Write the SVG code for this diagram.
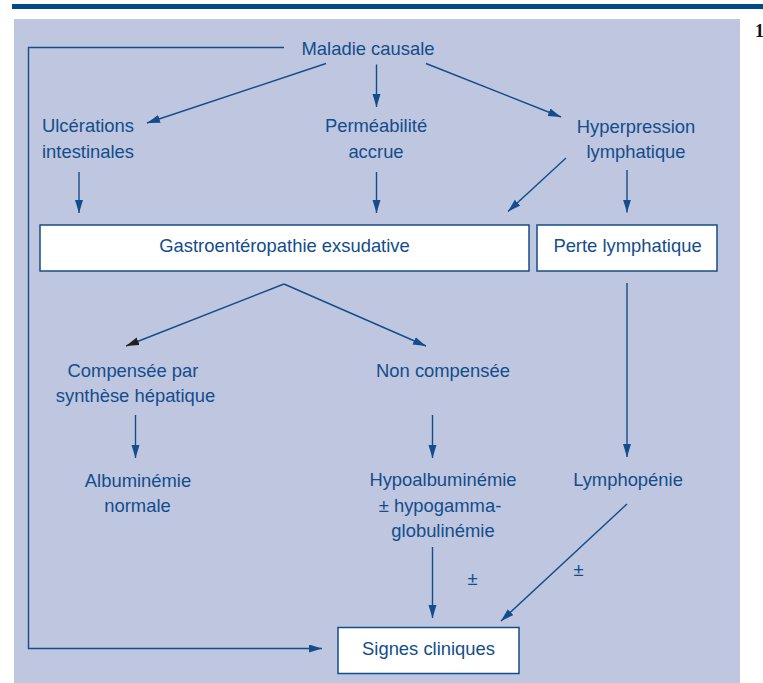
<svg xmlns="http://www.w3.org/2000/svg" width="763" height="683" viewBox="0 0 763 683">
  <style>
    .lbl { font-family: "Liberation Sans", Arial, sans-serif; font-size: 18.4px; fill: #134d8c; }
    .mid { text-anchor: middle; }
    .box { fill: #ffffff; stroke: #134d8c; stroke-width: 1.5; }
    .con { fill: none; stroke: #134d8c; stroke-width: 1.4; }
  </style>
  <defs>
    <marker id="arr" markerUnits="userSpaceOnUse" markerWidth="14" markerHeight="10" refX="13" refY="4" orient="auto">
      <path d="M0,0 L13,4 L0,8 z" fill="#134d8c"/>
    </marker>
    <marker id="arrDark" markerUnits="userSpaceOnUse" markerWidth="14" markerHeight="10" refX="13" refY="4" orient="auto">
      <path d="M0,0 L13,4 L0,8 z" fill="#231f20"/>
    </marker>
  </defs>

  <!-- page header rule and figure panel -->
  <rect x="12" y="4" width="751" height="5" fill="#004a87"/>
  <rect x="14" y="19" width="726" height="664" fill="#bfc6df"/>
  <text x="755" y="37" font-family="Liberation Serif, serif" font-weight="bold" font-size="18" fill="#111">1</text>

  <!-- connectors -->
  <g id="connectors">
    <polyline class="con" points="284,47.5 28.5,47.5 28.5,648.5 322,648.5" marker-end="url(#arr)"/>
    <line class="con" x1="326" y1="63.5" x2="147" y2="123" marker-end="url(#arr)"/>
    <line class="con" x1="376.5" y1="64.5" x2="376.5" y2="107" marker-end="url(#arr)"/>
    <line class="con" x1="426" y1="63.5" x2="561" y2="117" marker-end="url(#arr)"/>
    <line class="con" x1="79" y1="172" x2="79" y2="213" marker-end="url(#arr)"/>
    <line class="con" x1="376.5" y1="172" x2="376.5" y2="213" marker-end="url(#arr)"/>
    <line class="con" x1="566" y1="158" x2="508" y2="211.5" marker-end="url(#arr)"/>
    <line class="con" x1="627" y1="170" x2="627" y2="212.5" marker-end="url(#arr)"/>
    <line class="con" x1="284" y1="284" x2="126" y2="346" marker-end="url(#arrDark)"/>
    <line class="con" x1="284" y1="284" x2="426" y2="346" marker-end="url(#arr)"/>
    <line class="con" x1="627" y1="283" x2="627" y2="457" marker-end="url(#arr)"/>
    <line class="con" x1="135.5" y1="415" x2="135.5" y2="458" marker-end="url(#arr)"/>
    <line class="con" x1="432.5" y1="415" x2="432.5" y2="458" marker-end="url(#arr)"/>
    <line class="con" x1="432.5" y1="547" x2="432.5" y2="618" marker-end="url(#arr)"/>
    <line class="con" x1="627" y1="504" x2="501" y2="621" marker-end="url(#arr)"/>
    <text class="lbl mid" x="472.5" y="585">±</text>
    <text class="lbl mid" x="578.5" y="576">±</text>
  </g>

  <!-- nodes -->
  <g id="maladie-causale">
    <text class="lbl mid" x="368" y="55">Maladie causale</text>
  </g>
  <g id="ulcerations">
    <text class="lbl" x="42" y="132">Ulcérations</text>
    <text class="lbl" x="42" y="158">intestinales</text>
  </g>
  <g id="permeabilite">
    <text class="lbl mid" x="376" y="132">Perméabilité</text>
    <text class="lbl mid" x="376" y="158">accrue</text>
  </g>
  <g id="hyperpression">
    <text class="lbl mid" x="636" y="133">Hyperpression</text>
    <text class="lbl mid" x="636" y="158">lymphatique</text>
  </g>
  <g id="gastroenteropathie">
    <rect class="box" x="40" y="225" width="489" height="46"/>
    <text class="lbl mid" x="284.5" y="252">Gastroentéropathie exsudative</text>
  </g>
  <g id="perte-lymphatique">
    <rect class="box" x="537" y="225" width="180" height="46"/>
    <text class="lbl mid" x="627.5" y="252">Perte lymphatique</text>
  </g>
  <g id="compensee">
    <text class="lbl mid" x="133" y="377">Compensée par</text>
    <text class="lbl mid" x="135.5" y="402">synthèse hépatique</text>
  </g>
  <g id="non-compensee">
    <text class="lbl mid" x="443" y="377">Non compensée</text>
  </g>
  <g id="albuminemie-normale">
    <text class="lbl mid" x="138" y="487">Albuminémie</text>
    <text class="lbl mid" x="137.5" y="512">normale</text>
  </g>
  <g id="hypoalbuminemie">
    <text class="lbl mid" x="443" y="486">Hypoalbuminémie</text>
    <text class="lbl mid" x="440" y="512">± hypogamma-</text>
    <text class="lbl mid" x="443" y="537">globulinémie</text>
  </g>
  <g id="lymphopenie">
    <text class="lbl mid" x="628" y="486">Lymphopénie</text>
  </g>
  <g id="signes-cliniques">
    <rect class="box" x="338" y="627.5" width="181" height="46"/>
    <text class="lbl mid" x="428.5" y="655">Signes cliniques</text>
  </g>
</svg>
